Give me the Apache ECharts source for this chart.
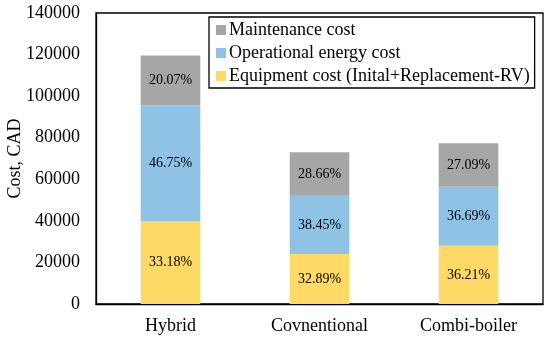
<!DOCTYPE html>
<html>
<head>
<meta charset="utf-8">
<script src="https://cdn.jsdelivr.net/npm/echarts@6/dist/echarts.min.js"></script>
<style>html,body{margin:0;padding:0;background:#fff}#c{width:550px;height:343px}</style>
</head>
<body>
<div id="c"></div>
<script>
var categories = ['Hybrid', 'Covnentional', 'Combi-boiler'];
var equipment = [39650, 24010, 27990];
var operational = [55870, 28070, 28360];
var maintenance = [23980, 20920, 20940];
var equipmentPct = ['33.18%', '32.89%', '36.21%'];
var operationalPct = ['46.75%', '38.45%', '36.69%'];
var maintenancePct = ['20.07%', '28.66%', '27.09%'];
var yTicks = [0, 20000, 40000, 60000, 80000, 100000, 120000, 140000];

var font = 'Liberation Serif, Times New Roman, serif';
function mk(name, data, pct, color) {
  return {
    name: name, type: 'bar', stack: 'total', data: data,
    barCategoryGap: '60%',
    itemStyle: { color: color },
    label: { show: true, position: 'inside', fontFamily: font, fontSize: 14, color: '#000',
      formatter: function (p) { return pct[p.dataIndex]; } }
  };
}
var chart = echarts.init(document.getElementById('c'));
chart.setOption({
  animation: false,
  grid: { left: 96, right: 7, top: 13, bottom: 39, show: true, borderColor: '#000', borderWidth: 1.3,
    containLabel: false, outerBoundsMode: 'none' },
  legend: {
    orient: 'vertical', left: 209, top: 17,
    data: ['Maintenance cost', 'Operational energy cost', 'Equipment cost (Inital+Replacement-RV)'],
    borderColor: '#000', borderWidth: 1.3, padding: [4, 5, 3, 7],
    itemWidth: 10, itemHeight: 10, itemGap: 5, icon: 'rect',
    textStyle: { fontFamily: font, fontSize: 18, color: '#000', padding: [0, 0, 0, -2] }
  },
  xAxis: {
    type: 'category', data: categories,
    axisLine: { show: true, lineStyle: { color: '#000', width: 1.3 } },
    axisTick: { show: false },
    axisLabel: { fontFamily: font, fontSize: 18, color: '#000', margin: 13 }
  },
  yAxis: {
    type: 'value', min: yTicks[0], max: yTicks[yTicks.length - 1], interval: 20000,
    name: 'Cost, CAD', nameLocation: 'middle', nameGap: 72, nameMoveOverlap: false,
    nameTextStyle: { fontFamily: font, fontSize: 18, color: '#000' },
    axisLine: { show: true, lineStyle: { color: '#000', width: 1.3 } },
    axisTick: { show: false },
    splitLine: { show: false },
    axisLabel: { fontFamily: font, fontSize: 18, color: '#000', margin: 16,
      formatter: function (v) { return String(v); } }
  },
  series: [
    mk('Equipment cost (Inital+Replacement-RV)', equipment, equipmentPct, '#ffd966'),
    mk('Operational energy cost', operational, operationalPct, '#8ec3e6'),
    mk('Maintenance cost', maintenance, maintenancePct, '#a6a6a6')
  ]
});
</script>
</body>
</html>
